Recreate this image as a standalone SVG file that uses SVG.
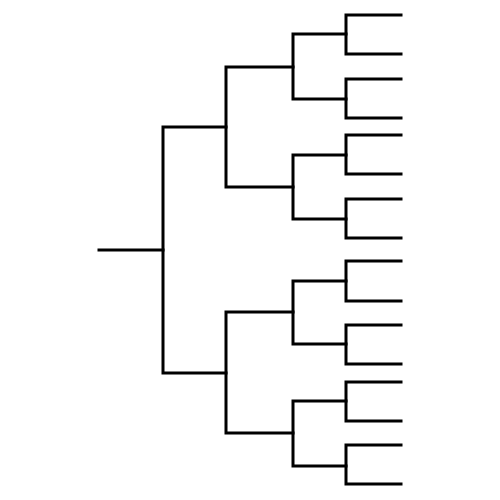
<svg xmlns="http://www.w3.org/2000/svg" width="500" height="500" viewBox="0 0 500 500">
<style>
.ln{fill:none;stroke:#000;stroke-width:3;stroke-linecap:square;stroke-linejoin:miter}
</style>
<rect width="500" height="500" fill="#fff"/>
<g id="connectors" class="ln">
<path id="root" d="M99,250 H163"/>
<path id="l4" d="M226,127 H163 V373 H226"/>
<path id="l3a" d="M293,67 H226 V187 H293"/>
<path id="l3b" d="M293,312 H226 V433 H293"/>
<path id="l2a" d="M346,34 H293 V99 H346"/>
<path id="l2b" d="M346,155 H293 V219 H346"/>
<path id="l2c" d="M346,281 H293 V344 H346"/>
<path id="l2d" d="M346,401 H293 V466 H346"/>
<path id="l1a" d="M401,15 H346 V54 H401"/>
<path id="l1b" d="M401,79 H346 V118 H401"/>
<path id="l1c" d="M401,135 H346 V174 H401"/>
<path id="l1d" d="M401,199 H346 V238 H401"/>
<path id="l1e" d="M401,261 H346 V301 H401"/>
<path id="l1f" d="M401,325 H346 V364 H401"/>
<path id="l1g" d="M401,382 H346 V421 H401"/>
<path id="l1h" d="M401,445 H346 V484 H401"/>
</g>
</svg>
